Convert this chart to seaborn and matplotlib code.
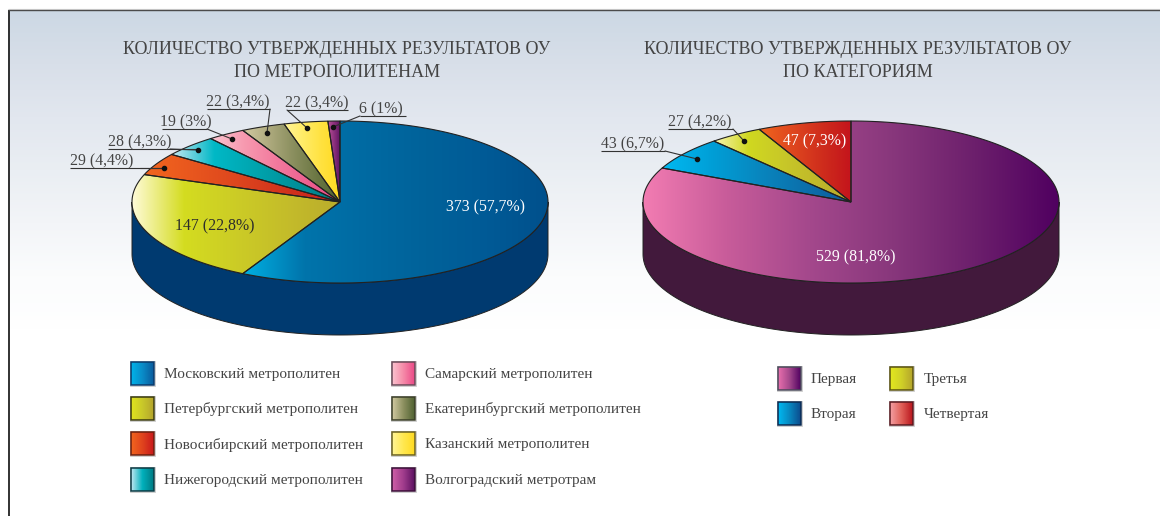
import numpy as np
import seaborn as sns
import matplotlib.pyplot as plt
from matplotlib.patches import Polygon, Rectangle

# values, clockwise from the top of each pie
metro_values = [373, 147, 29, 28, 19, 22, 22, 6]
metro_labels = ['373 (57,7%)', '147 (22,8%)', '29 (4,4%)', '28 (4,3%)',
                '19 (3%)', '22 (3,4%)', '22 (3,4%)', '6 (1%)']
metro_names = ['Московский метрополитен', 'Петербургский метрополитен',
               'Новосибирский метрополитен', 'Нижегородский метрополитен',
               'Самарский метрополитен', 'Екатеринбургский метрополитен',
               'Казанский метрополитен', 'Волгоградский метротрам']
cat_values = [529, 43, 27, 47]
cat_labels = ['529 (81,8%)', '43 (6,7%)', '27 (4,2%)', '47 (7,3%)']
cat_names = ['Первая', 'Вторая', 'Третья', 'Четвертая']

metro_title = 'КОЛИЧЕСТВО УТВЕРЖДЕННЫХ РЕЗУЛЬТАТОВ ОУ\nПО МЕТРОПОЛИТЕНАМ'
cat_title = 'КОЛИЧЕСТВО УТВЕРЖДЕННЫХ РЕЗУЛЬТАТОВ ОУ\nПО КАТЕГОРИЯМ'

# gradients, left to right
metro_grads = [['#00b0e2', '#0074ab', '#006aa2', '#00629a', '#005a96', '#00508c'],
               ['#fffbd8', '#d4dc20', '#cccc26', '#c4bc2a', '#baac2c'],
               ['#f2661e', '#e8561e', '#dc441e', '#d0301c', '#c8201c'],
               ['#c4e8f2', '#00b8c6', '#00a4ae', '#008e98', '#007a82'],
               ['#fbc4d0', '#f79ab0', '#f27a9e', '#ee6090', '#ea4886'],
               ['#d2caa2', '#b0ac80', '#8c9060', '#6c7844', '#4e6030'],
               ['#fff598', '#ffec68', '#ffe240', '#ffda20'],
               ['#ba5299', '#8a2f7c', '#5a1060']]
cat_grads = [['#f27cb2', '#c85c9a', '#a4488c', '#88377c', '#6c1f6c', '#500060'],
             ['#00baf2', '#00a0d8', '#0888c0', '#0c70ac', '#0c5a9c'],
             ['#f8f4b0', '#d0d820', '#c8c828', '#c0b82a', '#b8a82c'],
             ['#f0661e', '#e4501e', '#d83c1e', '#cc281c', '#c4141c']]
metro_swatch = [['#00b4ea', '#0a8cc8', '#0a5a9c'], ['#e0e41e', '#c8c82a', '#b4a42c'],
                ['#f2661e', '#e0441e', '#c8181c'], ['#c4e8f2', '#00b0bc', '#007a82'],
                ['#fbc4d0', '#f58aa8', '#ea4886'], ['#d2caa2', '#8c9060', '#4e6030'],
                ['#fff598', '#ffe850', '#ffda20'], ['#d060a8', '#a03c8c', '#5a1060']]
cat_swatch = [['#ea70ae', '#a4488c', '#500060'], ['#00baf2', '#0888c0', '#0c4a8c'],
              ['#e4e81e', '#d0d028', '#b4a42c'], ['#f4a0a4', '#e06058', '#b8141c']]
metro_edges = ['#0c3a6a', '#3a3a10', '#6a2010', '#0c3a44', '#6a4a58', '#3a3e28', '#6a6020', '#3a1038']
cat_edges = ['#4a4a5a', '#0c2a50', '#5a5210', '#5a1a20']
side_colors = ['#003a70', '#42193c']
bg_stops = ['#ccd8e4', '#d8dfe9', '#e2e7ef', '#eaeef3', '#f3f5f8', '#fbfcfd', '#ffffff']

text_color = '#444444'
font = ['Liberation Serif', 'DejaVu Serif']

sns.set_theme(style='white')
plt.rcParams['font.family'] = font

fig = plt.figure(figsize=(11.6, 5.16), dpi=100)
ax = fig.add_axes([0, 0, 1, 1])
ax.set_axis_off()


def gradient(stops, x0, x1, y0, y1, clip=None, vertical=False, z=1):
    cmap = sns.blend_palette(stops, as_cmap=True)
    ramp = np.linspace(0, 1, 256)
    ramp = ramp[:, None] if vertical else ramp[None, :]
    im = ax.imshow(ramp, cmap=cmap, extent=[x0, x1, y1, y0], aspect='auto', zorder=z,
                   interpolation='bilinear', vmin=0, vmax=1)
    if clip is not None:
        im.set_clip_path(clip)
    return im


def draw_pie(values, grads, side, cx, cy=202, rx=208, ry=81, depth=52):
    # side wall first, then the wedges over it
    t = np.radians(np.linspace(90, 270, 181))
    lower = np.c_[cx + rx * np.sin(t), cy - ry * np.cos(t)]
    wall = np.r_[lower, (lower + [0, depth])[::-1]]
    ax.add_patch(Polygon(wall, closed=True, fc=side, ec='#222222', lw=0.7, zorder=2))
    edges = np.r_[0, np.cumsum(values)] / sum(values) * 2 * np.pi
    for a0, a1, stops in zip(edges[:-1], edges[1:], grads):
        t = np.linspace(a0, a1, 200)
        pts = np.c_[cx + rx * np.sin(t), cy - ry * np.cos(t)]
        pts = np.r_[[[cx, cy]], pts]
        edge = Polygon(pts, closed=True, fc='none', ec='#222222', lw=0.8, zorder=4)
        ax.add_patch(edge)
        gradient(stops, pts[:, 0].min(), pts[:, 0].max(), pts[:, 1].min(), pts[:, 1].max(),
                 clip=edge, z=3)


def leader(label, name_x, under, x0, x1, dot, size=11.4):
    # underlined label with a line running to a dot on the wedge
    ax.text(name_x, under - 3, label, ha='center', va='baseline', fontsize=size, color=text_color, zorder=6)
    ax.plot([x0, x1], [under, under], color='#333333', lw=0.8, zorder=5, solid_capstyle='butt')
    ax.plot([dot[2], dot[0]], [under, dot[1]], color='#333333', lw=0.8, zorder=5)
    ax.plot(dot[0], dot[1], 'o', color='#111111', ms=3, zorder=6)


def legend_item(name, stops, edge, x, y, tx, size=11):
    r = Rectangle((x, y), 23, 23, fc='none', ec=edge, lw=1.1, zorder=4)
    ax.add_patch(r)
    ax.add_patch(Rectangle((x - 1, y - 1), 25, 25, fc='none', ec='#c8c8c8', lw=0.6, zorder=3))
    gradient(stops, x, x + 23, y, y + 23, z=3)
    ax.text(tx, y + 12.5, name, ha='left', va='center', fontsize=size, color=text_color, zorder=6)


gradient(bg_stops, 8, 1160, 10, 330, vertical=True, z=0)
ax.plot([8.5, 8.5], [10, 516], color='#222222', lw=1.3, zorder=1, solid_capstyle='butt')
ax.plot([8, 1160], [10, 10], color='#444444', lw=1.0, zorder=1, solid_capstyle='butt')
ax.plot([8, 1160], [9, 9], color='#c4c4c4', lw=0.8, zorder=1, solid_capstyle='butt')

draw_pie(metro_values, metro_grads, side_colors[0], 340)
draw_pie(cat_values, cat_grads, side_colors[1], 851)

ax.text(337, 61, metro_title, ha='center', va='center', fontsize=13, color=text_color,
        linespacing=1.4, zorder=6)
ax.text(858, 61, cat_title, ha='center', va='center', fontsize=13, color=text_color,
        linespacing=1.4, zorder=6)

ax.text(485, 207.5, metro_labels[0], ha='center', va='center', fontsize=11.4, color='white', zorder=6)
ax.text(215, 226, metro_labels[1], ha='center', va='center', fontsize=11.4, color='#2c2c2c', zorder=6)
ax.text(815, 141, cat_labels[3], ha='center', va='center', fontsize=11.4, color='white', zorder=6)
ax.text(856, 257, cat_labels[0], ha='center', va='center', fontsize=11.4, color='white', zorder=6)

leader(metro_labels[2], 102, 168, 70, 164, (164, 168, 140))
leader(metro_labels[3], 140, 149, 108, 198, (198, 150, 170))
leader(metro_labels[4], 186, 129, 162, 207, (232, 139, 207))
leader(metro_labels[5], 238, 109, 207, 270, (267, 133, 270))
leader(metro_labels[6], 317, 110, 287, 348, (307, 128, 287))
leader(metro_labels[7], 381, 116, 360, 406, (333, 127, 360))
leader(cat_labels[2], 700, 129, 668, 733, (744, 141, 733))
leader(cat_labels[1], 633, 151, 601, 665, (697, 159, 665))

for i, (name, stops, edge) in enumerate(zip(metro_names, metro_swatch, metro_edges)):
    col, row = i // 4, i % 4
    y = [362, 397, 432, 468][row]
    legend_item(name, stops, edge, [131, 392][col], y, [164, 425][col])

for i, (name, stops, edge) in enumerate(zip(cat_names, cat_swatch, cat_edges)):
    x, tx = [(778, 811), (778, 811), (890, 924), (890, 924)][i]
    legend_item(name, stops, edge, x, [367, 402, 367, 402][i], tx)

ax.set_xlim(0, 1160)
ax.set_ylim(516, 0)
fig.savefig('out.png', dpi=100)
